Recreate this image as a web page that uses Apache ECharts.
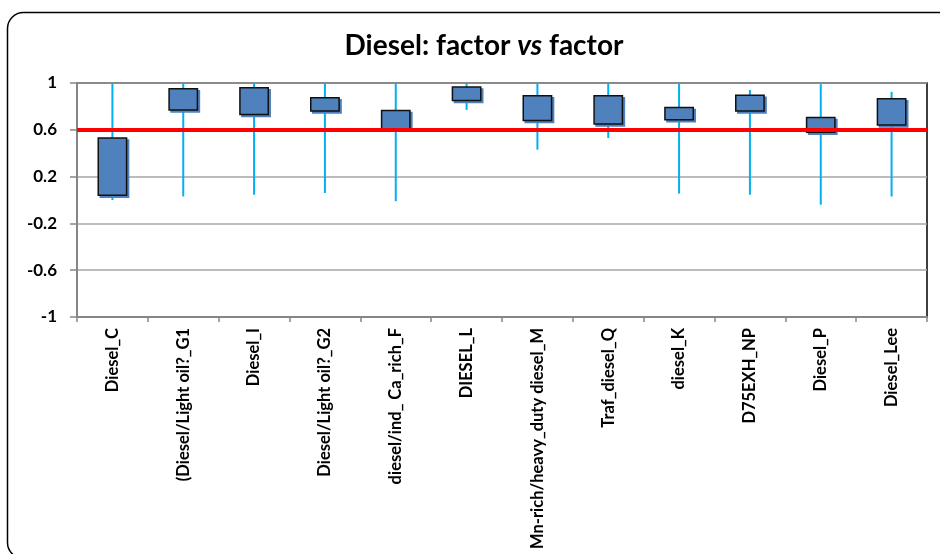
<!DOCTYPE html>
<html>
<head>
<meta charset="utf-8">
<script src="https://cdn.jsdelivr.net/npm/echarts@6/dist/echarts.min.js"></script>
<style>
  html, body { margin: 0; padding: 0; background: #fff; }
  #chart { width: 940px; height: 554px; }
</style>
</head>
<body>
<div id="chart"></div>
<script>
const categories = ['Diesel_C', '(Diesel/Light oil?_G1', 'Diesel_I', 'Diesel/Light oil?_G2',
  'diesel/ind_ Ca_rich_F', 'DIESEL_L', 'Mn-rich/heavy_duty diesel_M', 'Traf_diesel_Q',
  'diesel_K', 'D75EXH_NP', 'Diesel_P', 'Diesel_Lee'];
const whiskerLow  = [0.00, 0.03, 0.045, 0.06, -0.01, 0.77, 0.43, 0.53, 0.055, 0.045, -0.04, 0.03];
const boxLow      = [0.04, 0.77, 0.73, 0.76, 0.61, 0.85, 0.68, 0.65, 0.685, 0.76, 0.58, 0.64];
const boxHigh     = [0.53, 0.95, 0.96, 0.875, 0.765, 0.965, 0.89, 0.89, 0.79, 0.895, 0.705, 0.865];
const whiskerHigh = [1.00, 1.00, 1.00, 1.00, 1.00, 1.00, 1.00, 1.00, 1.00, 0.94, 0.99, 0.925];
const threshold = 0.6;
const yTicks = [-1, -0.6, -0.2, 0.2, 0.6, 1];

const data = categories.map((c, i) => [i, whiskerLow[i], boxLow[i], boxHigh[i], whiskerHigh[i]]);

const FONT = 'Lato, "Open Sans", sans-serif';
const chart = echarts.init(document.getElementById('chart'), null, { renderer: 'canvas' });

function renderItem(params, api) {
  const x = api.value(0);
  const pLow = api.coord([x, api.value(1)]);
  const pBL = api.coord([x, api.value(2)]);
  const pBH = api.coord([x, api.value(3)]);
  const pHigh = api.coord([x, api.value(4)]);
  const w = api.size([1, 0])[0] * 0.4;
  return {
    type: 'group',
    children: [
      {
        type: 'line',
        shape: { x1: pLow[0], y1: pLow[1], x2: pHigh[0], y2: pHigh[1] },
        style: { stroke: '#00B0F0', lineWidth: 2 }
      },
      {
        type: 'rect',
        shape: { x: pBL[0] - w / 2, y: pBH[1], width: w, height: pBL[1] - pBH[1] },
        style: {
          fill: '#4F81BD', stroke: '#111', lineWidth: 1.5,
          shadowColor: '#4F81BD', shadowOffsetX: 2, shadowOffsetY: 2, shadowBlur: 0
        }
      }
    ]
  };
}

chart.setOption({
  animation: false,
  backgroundColor: '#fff',
  title: {
    text: '{b|Diesel: factor }{i|vs}{b| factor}',
    left: 479,
    top: 27,
    textAlign: 'center',
    textStyle: {
      rich: {
        b: { fontFamily: FONT, fontWeight: 'bold', fontSize: 28, color: '#000' },
        i: { fontFamily: FONT, fontWeight: 'bold', fontStyle: 'italic', fontSize: 28, color: '#000' }
      }
    }
  },
  graphic: [{
    type: 'rect',
    shape: { x: 7.5, y: 12.5, width: 950, height: 546, r: 16 },
    style: { fill: 'none', stroke: '#000', lineWidth: 1.5 },
    z: 100
  }],
  grid: {
    left: 77, right: 13, top: 83, bottom: 237,
    show: true, borderColor: '#000', borderWidth: 1.5, backgroundColor: 'transparent'
  },
  xAxis: {
    type: 'category',
    data: categories,
    boundaryGap: true,
    axisLine: { onZero: false, lineStyle: { color: '#868686', width: 2 } },
    axisTick: { show: true, length: 5, inside: false, lineStyle: { color: '#868686', width: 1.5 } },
    axisLabel: {
      rotate: 90, interval: 0, margin: 11,
      fontFamily: FONT, fontWeight: 'bold', fontSize: 16.5, color: '#000'
    },
    splitLine: { show: false }
  },
  yAxis: {
    type: 'value',
    min: -1, max: 1,
    axisLine: { show: true, lineStyle: { color: '#868686', width: 2 } },
    axisTick: { show: true, length: 7, customValues: yTicks, lineStyle: { color: '#868686', width: 1.5 } },
    axisLabel: {
      customValues: yTicks, margin: 20,
      fontFamily: FONT, fontWeight: 'bold', fontSize: 17, color: '#000',
      formatter: v => String(Math.round(v * 10) / 10)
    },
    splitLine: { show: true, lineStyle: { color: '#A6A6A6', width: 1.5 } }
  },
  series: [{
    type: 'custom',
    renderItem: renderItem,
    encode: { x: 0, y: [1, 2, 3, 4] },
    data: data,
    z: 2,
    markLine: {
      silent: true,
      symbol: ['none', 'none'],
      label: { show: false },
      lineStyle: { color: '#FF0000', width: 4, type: 'solid' },
      data: [{ yAxis: threshold }],
      z: 10
    }
  }]
});
</script>
</body>
</html>
